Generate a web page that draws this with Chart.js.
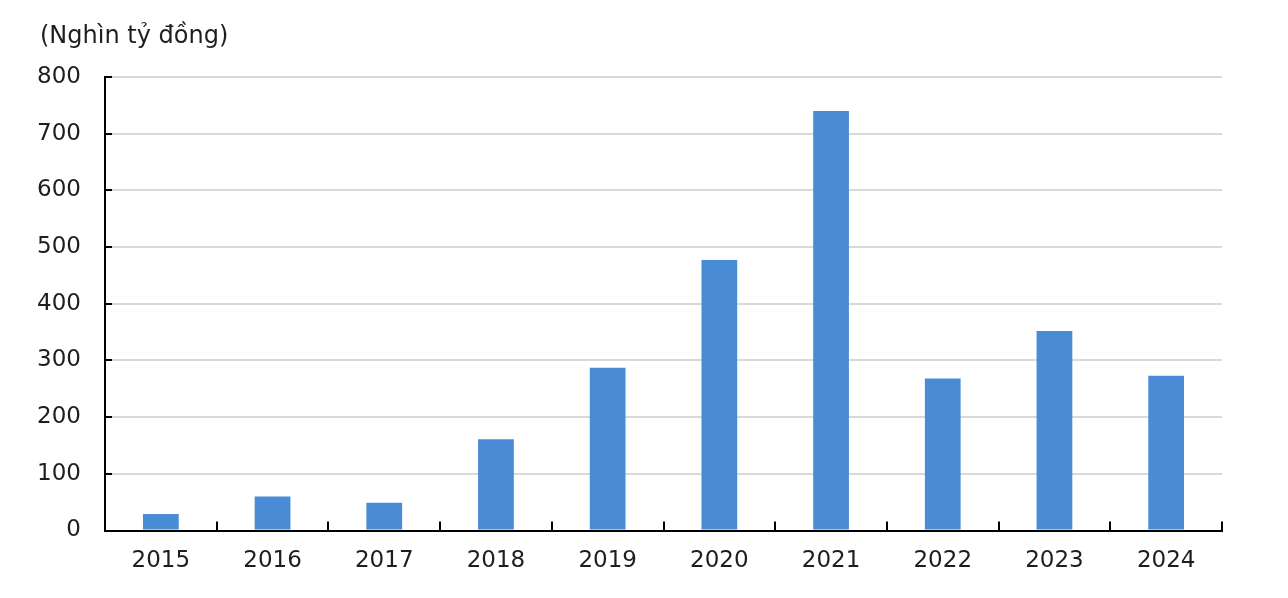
<!DOCTYPE html>
<html>
<head>
<meta charset="utf-8">
<script src="https://cdn.jsdelivr.net/npm/chart.js@4/dist/chart.umd.min.js"></script>
<style>
  html, body { margin: 0; padding: 0; background: #ffffff; }
  #wrap { width: 1288px; height: 598px; position: relative; }
</style>
</head>
<body>
<div id="wrap"><canvas id="c" width="1288" height="598"></canvas></div>
<script>
const categories = ['2015', '2016', '2017', '2018', '2019', '2020', '2021', '2022', '2023', '2024'];
const values = [29, 60, 49, 161, 287, 477, 740, 268, 352, 273];
const yTicks = [0, 100, 200, 300, 400, 500, 600, 700, 800];
const unitLabel = '(Nghìn tỷ đồng)';

const FONT = 'DejaVu Sans';
const TEXT = '#1e1e1e';

const innerTicks = {
  id: 'innerTicks',
  afterDraw(chart) {
    const ctx = chart.ctx;
    const x = chart.scales.x, y = chart.scales.y;
    const area = chart.chartArea;
    const step = x.getPixelForTick(1) - x.getPixelForTick(0);
    ctx.save();
    ctx.strokeStyle = '#000';
    ctx.lineWidth = 2;
    for (let i = 0; i < categories.length; i++) {
      const px = Math.round(x.getPixelForTick(i) + step / 2);
      ctx.beginPath();
      ctx.moveTo(px, area.bottom);
      ctx.lineTo(px, area.bottom - 9);
      ctx.stroke();
    }
    yTicks.forEach(v => {
      const py = Math.round(y.getPixelForValue(v));
      ctx.beginPath();
      ctx.moveTo(area.left, py);
      ctx.lineTo(area.left + 7, py);
      ctx.stroke();
    });
    ctx.fillStyle = TEXT;
    ctx.font = '24px "' + FONT + '"';
    ctx.textAlign = 'left';
    ctx.textBaseline = 'middle';
    ctx.fillText(unitLabel, 40, 37);
    ctx.restore();
  }
};

new Chart(document.getElementById('c'), {
  type: 'bar',
  data: {
    labels: categories,
    datasets: [{
      data: values,
      backgroundColor: '#4a8bd6',
      borderWidth: 0,
      barPercentage: 0.32,
      categoryPercentage: 1.0
    }]
  },
  options: {
    responsive: false,
    animation: false,
    devicePixelRatio: 1,
    layout: { padding: { left: 0, right: 66, top: 77, bottom: 0 } },
    plugins: { legend: { display: false }, tooltip: { enabled: false }, title: { display: false } },
    scales: {
      x: {
        offset: true,
        grid: { display: false, drawTicks: false },
        border: { display: true, color: '#000', width: 2 },
        ticks: { color: TEXT, font: { family: FONT, size: 23 }, padding: 17, maxRotation: 0 },
        afterFit(scale) { scale.height = 67.5; }
      },
      y: {
        min: 0, max: 800,
        afterBuildTicks(scale) { scale.ticks = yTicks.map(v => ({ value: v })); },
        grid: { color: '#d9d9d9', lineWidth: 2, drawTicks: false },
        border: { display: true, color: '#000', width: 2 },
        ticks: { color: TEXT, font: { family: FONT, size: 23 }, padding: 24 },
        afterFit(scale) { scale.width = 105; }
      }
    }
  },
  plugins: [innerTicks]
});
</script>
</body>
</html>
